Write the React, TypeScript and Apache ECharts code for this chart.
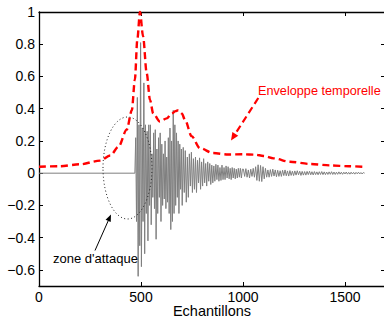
import React, { useEffect, useRef } from "react";
import * as echarts from "echarts";

// Time axis tick labels
const xTicks = [0, 500, 1000, 1500];
const yTicks = [-0.6, -0.4, -0.2, 0, 0.2, 0.4, 0.6, 0.8, 1];
const xTitle = "Echantillons";

// Silent part before the attack (sample index, value)
const silenceX = [0, 470];
const silenceY = [0, 0];

// Attack segment: starts at sample 474, one value every 4 samples
const attackStart = 474;
const attackStep = 4;
const waveAttack = [
  0.22, -0.3, 0.47, -0.64, 0.3, -0.45, 0.81, -0.58, 0.28,
  -0.3, 0.56, -0.5, 0.3, -0.25, 0.26, -0.42, 0.3, -0.2, 0.3,
  -0.32, 0.12, -0.15, 0.25, -0.22, 0.27, -0.41, 0.15, -0.25, 0.22,
  -0.15, 0.25, -0.3, 0.18, -0.2, 0.12, -0.16, 0.2, -0.22, 0.1,
  -0.18, 0.22, -0.25, 0.28, -0.35, 0.2, -0.3, 0.39, -0.25, 0.3,
  -0.2, 0.25, -0.15, 0.2, -0.25, 0.18, -0.1, 0.15,
];

// Decay segment: starts at sample 702, one value every 5 samples
const decayStart = 702;
const decayStep = 5;
const waveDecay = [
  -0.2, 0.16, -0.12, 0.14, -0.18, 0.1, -0.15, 0.12, -0.08, 0.13,
  -0.12, 0.09, -0.1, 0.1, -0.12, 0.08, -0.06, 0.095, -0.1, 0.07,
  -0.08, 0.09, -0.06, 0.06, -0.08, 0.07, -0.05, 0.06, -0.07, 0.05,
  -0.06, 0.045, -0.05, 0.055, -0.04, 0.05, -0.05, 0.035, -0.045, 0.05,
  -0.04, 0.035, -0.04, 0.045, -0.03, 0.04, -0.035, 0.03, -0.04, 0.035,
  -0.03, 0.03, -0.035, 0.025, -0.03, 0.03, -0.025, 0.03, -0.03, 0.025,
];

// Tail segment: starts at sample 1002, one value every 6 samples
const tailStart = 1002;
const tailStep = 6;
const waveTail = [
  0.025, -0.02, 0.028, -0.025, 0.02, -0.03, 0.025, -0.02, 0.03, -0.025,
  0.04, -0.045, 0.052, -0.05, 0.048, -0.052, 0.04, -0.035, 0.03, -0.025,
  0.02, -0.025, 0.022, -0.02, 0.025, -0.018, 0.02, -0.022, 0.018, -0.02,
  0.015, -0.02, 0.018, -0.015, 0.02, -0.016, 0.014, -0.018, 0.016, -0.014,
  0.012, -0.015, 0.014, -0.012, 0.015, -0.01, 0.012, -0.014, 0.011, -0.012,
  0.01, -0.012, 0.011, -0.009, 0.012, -0.01, 0.009, -0.011, 0.01, -0.009,
  0.008, -0.01, 0.009, -0.008, 0.01, -0.009, 0.008, -0.009, 0.007, -0.008,
  0.008, -0.007, 0.009, -0.008, 0.007, -0.008, 0.006, -0.007, 0.008, -0.006,
  0.006, -0.007, 0.006, -0.005, 0.007, -0.006, 0.005, -0.006, 0.006, -0.005,
  0.005, -0.006, 0.005, -0.004, 0.006, -0.005, 0.004, -0.005, 0.004, 0,
];

// Temporal envelope (red dashed)
const envX = [
  0, 100, 200, 300, 350, 390, 430, 455, 470, 482, 495, 510, 528, 544, 560,
  593, 626, 650, 670, 683, 700, 716, 748, 789, 853, 927, 1000, 1060, 1100,
  1150, 1230, 1330, 1430, 1520, 1590,
];
const envY = [
  0.04, 0.043, 0.055, 0.078, 0.11, 0.165, 0.27, 0.39, 0.58, 0.83, 1.0, 0.85,
  0.62, 0.455, 0.37, 0.32, 0.34, 0.37, 0.385, 0.39, 0.37, 0.33, 0.23, 0.155,
  0.125, 0.116, 0.117, 0.115, 0.107, 0.092, 0.071, 0.057, 0.048, 0.043, 0.04,
];

const FONT = "'Liberation Sans', Arial, Helvetica, sans-serif";

function fmt(v: number): string {
  const r = Number(v.toFixed(1));
  if (r < 0) return "\u2212" + String(-r);
  return String(r);
}

export default function App() {
  const ref = useRef<HTMLDivElement>(null);

  useEffect(() => {
    if (!ref.current) return;
    const chart = echarts.init(ref.current, undefined, { renderer: "svg" });

    const wave: number[][] = [];
    silenceX.forEach((x, i) => wave.push([x, silenceY[i]]));
    waveAttack.forEach((v, i) => wave.push([attackStart + i * attackStep, v]));
    waveDecay.forEach((v, i) => wave.push([decayStart + i * decayStep, v]));
    waveTail.forEach((v, i) => wave.push([tailStart + i * tailStep, v]));
    const env = envX.map((x, i) => [x, envY[i]]);

    const tickStyle = { inside: true, length: 4, lineStyle: { color: "#000", width: 1 } };
    const lineStyle = { show: true, onZero: false, lineStyle: { color: "#000", width: 1.3 } };

    // Arrow geometry (pixel layout)
    const blackTail = [95, 250.5];
    const blackTip = [111, 214.5];
    const redTail = [258.3, 98];
    const redTip = [231, 140.5];
    const head = (tail: number[], tip: number[], len: number, hw: number) => {
      const dx = tip[0] - tail[0];
      const dy = tip[1] - tail[1];
      const L = Math.hypot(dx, dy);
      const ux = dx / L;
      const uy = dy / L;
      const bx = tip[0] - len * ux;
      const by = tip[1] - len * uy;
      return [
        [tip[0], tip[1]],
        [bx - hw * uy, by + hw * ux],
        [bx + hw * uy, by - hw * ux],
      ];
    };
    const blackHead = head(blackTail, blackTip, 7, 2.8);
    const redHead = head(redTail, redTip, 8, 3.5);
    const blackLineEnd = blackHead[0].map((_, k) => (blackHead[1][k] + blackHead[2][k]) / 2);
    const redLineEnd = redHead[0].map((_, k) => (redHead[1][k] + redHead[2][k]) / 2);

    chart.setOption({
      animation: false,
      backgroundColor: "#ffffff",
      grid: {
        left: 39,
        top: 12,
        width: 346,
        height: 274,
        containLabel: false,
        outerBoundsMode: "none",
      },
      xAxis: [
        {
          type: "value",
          position: "bottom",
          min: 0,
          max: 1696,
          splitLine: { show: false },
          axisLine: lineStyle,
          axisTick: { ...tickStyle, customValues: xTicks },
          axisLabel: {
            customValues: xTicks,
            formatter: (v: number) => String(Math.round(v)),
            color: "#000",
            fontSize: 14,
            fontFamily: FONT,
            margin: 4,
          },
        },
        {
          type: "value",
          position: "top",
          min: 0,
          max: 1696,
          splitLine: { show: false },
          axisLine: lineStyle,
          axisTick: { ...tickStyle, customValues: xTicks },
          axisLabel: { show: false },
        },
      ],
      yAxis: [
        {
          type: "value",
          position: "left",
          min: -0.7,
          max: 1,
          splitLine: { show: false },
          axisLine: lineStyle,
          axisTick: { ...tickStyle, customValues: yTicks },
          axisLabel: {
            customValues: yTicks,
            formatter: (v: number) => fmt(v),
            color: "#000",
            fontSize: 14,
            fontFamily: FONT,
            margin: 4,
          },
        },
        {
          type: "value",
          position: "right",
          min: -0.7,
          max: 1,
          splitLine: { show: false },
          axisLine: lineStyle,
          axisTick: { ...tickStyle, customValues: yTicks },
          axisLabel: { show: false },
        },
      ],
      series: [
        {
          type: "line",
          data: wave,
          xAxisIndex: 0,
          yAxisIndex: 0,
          showSymbol: false,
          symbol: "none",
          lineStyle: { color: "#7f7f7f", width: 1 },
          z: 2,
          silent: true,
        },
        {
          type: "line",
          data: env,
          xAxisIndex: 0,
          yAxisIndex: 0,
          showSymbol: false,
          symbol: "none",
          smooth: 0.3,
          smoothMonotone: "x",
          clip: false,
          lineStyle: { color: "#ff0000", width: 2.4, type: [7, 4] },
          z: 4,
          silent: true,
        },
      ],
      graphic: [
        {
          type: "ellipse",
          z: 100,
          silent: true,
          shape: { cx: 127.5, cy: 168, rx: 24.5, ry: 51 },
          style: { fill: "none", stroke: "#222", lineWidth: 1, lineDash: [1, 2.5] },
        },
        {
          type: "line",
          z: 100,
          silent: true,
          shape: { x1: blackTail[0], y1: blackTail[1], x2: blackLineEnd[0], y2: blackLineEnd[1] },
          style: { stroke: "#000", lineWidth: 1 },
        },
        {
          type: "polygon",
          z: 100,
          silent: true,
          shape: { points: blackHead },
          style: { fill: "#000" },
        },
        {
          type: "line",
          z: 100,
          silent: true,
          shape: { x1: redTail[0], y1: redTail[1], x2: redLineEnd[0], y2: redLineEnd[1] },
          style: { stroke: "#ff0000", lineWidth: 2.2, lineDash: [7, 4] },
        },
        {
          type: "polygon",
          z: 100,
          silent: true,
          shape: { points: redHead },
          style: { fill: "#ff0000" },
        },
        {
          type: "text",
          z: 100,
          silent: true,
          x: 212,
          y: 311,
          style: {
            text: xTitle,
            fill: "#000",
            fontSize: 14.5,
            fontFamily: FONT,
            verticalAlign: "middle",
            align: "center",
          },
        },
        {
          type: "text",
          z: 100,
          silent: true,
          x: 53,
          y: 258,
          style: {
            text: "zone d'attaque",
            fill: "#000",
            fontSize: 13,
            fontFamily: FONT,
            verticalAlign: "middle",
            align: "left",
          },
        },
        {
          type: "text",
          z: 100,
          silent: true,
          x: 258,
          y: 91,
          style: {
            text: "Enveloppe temporelle",
            fill: "#ff0000",
            fontSize: 12.7,
            fontFamily: FONT,
            verticalAlign: "middle",
            align: "left",
          },
        },
      ],
    });

    return () => {
      chart.dispose();
    };
  }, []);

  return (
    <div
      ref={ref}
      style={{ position: "absolute", left: 0, top: 0, width: 384, height: 321 }}
    />
  );
}
